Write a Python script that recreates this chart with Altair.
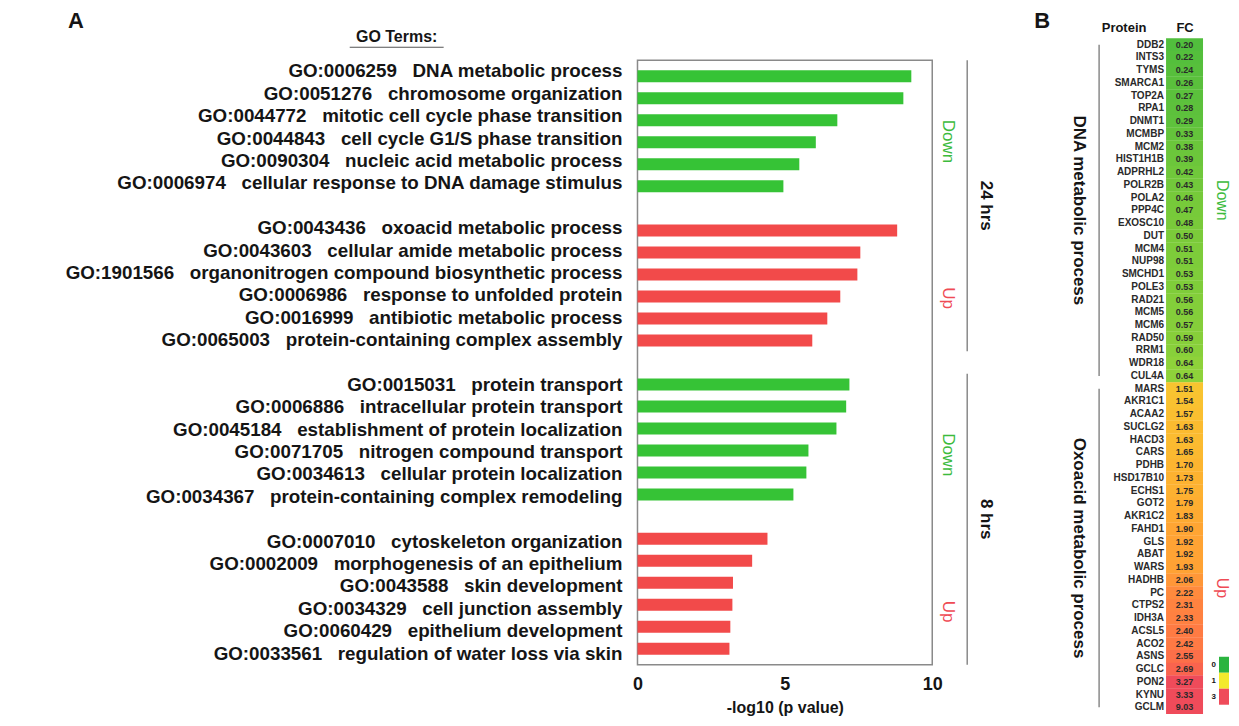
import altair as alt
import pandas as pd

# ---------------- data: panel A (GO enrichment) ----------------
go_ids = ["GO:0006259", "GO:0051276", "GO:0044772", "GO:0044843", "GO:0090304", "GO:0006974",
          "GO:0043436", "GO:0043603", "GO:1901566", "GO:0006986", "GO:0016999", "GO:0065003",
          "GO:0015031", "GO:0006886", "GO:0045184", "GO:0071705", "GO:0034613", "GO:0034367",
          "GO:0007010", "GO:0002009", "GO:0043588", "GO:0034329", "GO:0060429", "GO:0033561"]
go_terms = ["DNA metabolic process", "chromosome organization", "mitotic cell cycle phase transition",
            "cell cycle G1/S phase transition", "nucleic acid metabolic process",
            "cellular response to DNA damage stimulus",
            "oxoacid metabolic process", "cellular amide metabolic process",
            "organonitrogen compound biosynthetic process", "response to unfolded protein",
            "antibiotic metabolic process", "protein-containing complex assembly",
            "protein transport", "intracellular protein transport",
            "establishment of protein localization", "nitrogen compound transport",
            "cellular protein localization", "protein-containing complex remodeling",
            "cytoskeleton organization", "morphogenesis of an epithelium", "skin development",
            "cell junction assembly", "epithelium development", "regulation of water loss via skin"]
neg_log10_p = [9.29, 9.02, 6.78, 6.05, 5.49, 4.95,
               8.81, 7.56, 7.46, 6.88, 6.44, 5.93,
               7.19, 7.08, 6.75, 5.80, 5.73, 5.29,
               4.41, 3.89, 3.24, 3.22, 3.15, 3.12]
go_direction = ["Down", "Down", "Down", "Down", "Down", "Down",
                "Up", "Up", "Up", "Up", "Up", "Up",
                "Down", "Down", "Down", "Down", "Down", "Down",
                "Up", "Up", "Up", "Up", "Up", "Up"]
go_time = ["24 hrs"] * 12 + ["8 hrs"] * 12

# ---------------- data: panel B (protein fold change) ----------------
proteins = ["DDB2", "INTS3", "TYMS", "SMARCA1", "TOP2A", "RPA1", "DNMT1", "MCMBP", "MCM2",
            "HIST1H1B", "ADPRHL2", "POLR2B", "POLA2", "PPP4C", "EXOSC10", "DUT", "MCM4",
            "NUP98", "SMCHD1", "POLE3", "RAD21", "MCM5", "MCM6", "RAD50", "RRM1", "WDR18",
            "CUL4A",
            "MARS", "AKR1C1", "ACAA2", "SUCLG2", "HACD3", "CARS", "PDHB", "HSD17B10", "ECHS1",
            "GOT2", "AKR1C2", "FAHD1", "GLS", "ABAT", "WARS", "HADHB", "PC", "CTPS2", "IDH3A",
            "ACSL5", "ACO2", "ASNS", "GCLC", "PON2", "KYNU", "GCLM"]
fc_values = [0.20, 0.22, 0.24, 0.26, 0.27, 0.28, 0.29, 0.33, 0.38, 0.39, 0.42, 0.43, 0.46,
             0.47, 0.48, 0.50, 0.51, 0.51, 0.53, 0.53, 0.56, 0.56, 0.57, 0.59, 0.60, 0.64, 0.64,
             1.51, 1.54, 1.57, 1.63, 1.63, 1.65, 1.70, 1.73, 1.75, 1.79, 1.83, 1.90, 1.92,
             1.92, 1.93, 2.06, 2.22, 2.31, 2.33, 2.40, 2.42, 2.55, 2.69, 3.27, 3.33, 9.03]
fc_process = ["DNA metabolic process"] * 27 + ["Oxoacid metabolic process"] * 26
fc_direction = ["Down"] * 27 + ["Up"] * 26
legend_values = [0, 1, 3]
legend_labels = ["0", "1", "3"]

# ---------------- styles ----------------
FONT = "Liberation Sans, Arial, Helvetica, sans-serif"
GREEN = "#36c336"
RED = "#f24a4a"
GREEN_TXT = "#3dbb3d"
RED_TXT = "#ef4b55"
GRAY = "#8a8a8a"
INK = "#151515"

dfA = pd.DataFrame({"go": go_ids, "term": go_terms, "value": neg_log10_p,
                    "direction": go_direction, "time": go_time})
dfA["row"] = [i + i // 6 for i in range(len(dfA))]
dfA["label"] = dfA["go"] + "\u00a0\u00a0\u00a0" + dfA["term"]

dfB = pd.DataFrame({"protein": proteins, "fc": fc_values,
                    "process": fc_process, "direction": fc_direction})
dfB["idx"] = list(range(len(dfB)))

one = pd.DataFrame({"k": [0]})


def xA():
    return alt.Scale(domain=[0, 10], range=[630, 925], nice=False, zero=False)


def yA():
    return alt.Scale(domain=[-0.5, 26.5], range=[52, 657], nice=False, zero=False)


def yB():
    return alt.Scale(domain=[-0.5, 52.5], range=[30, 706], nice=False, zero=False)


def xB():
    return alt.Scale(domain=[0, 1], range=[1159, 1196], nice=False, zero=False)


def cscale():
    return alt.Scale(domain=[0, 0.65, 1, 1.5, 3],
                     range=["#2bb43f", "#8fd23a", "#f3ea2c", "#f8c530", "#ef4b5a"],
                     clamp=True)


# ---------------- panel A ----------------
bars = alt.Chart(dfA).mark_bar(orient="horizontal", size=12).encode(
    x=alt.X("value:Q", scale=xA(),
            axis=alt.Axis(values=[0, 5, 10], format="d", title="-log10 (p value)",
                          ticks=False, domain=False, grid=False, labelFlush=False,
                          labelFont=FONT, labelFontSize=18, labelFontWeight="bold",
                          labelColor=INK, labelPadding=11,
                          titleFont=FONT, titleFontSize=16, titleFontWeight="bold",
                          titleColor=INK, titlePadding=6)),
    y=alt.Y("row:Q", scale=yA(), axis=None),
    color=alt.condition(alt.datum.direction == "Down", alt.value(GREEN), alt.value(RED)),
)

frame = alt.Chart(one).transform_calculate(
    x0="0", x1="10", y0="-0.5", y1="26.5"
).mark_rect(fillOpacity=0, stroke=GRAY, strokeWidth=1.5).encode(
    x=alt.X("x0:Q", scale=xA(), axis=None), x2="x1:Q",
    y=alt.Y("y0:Q", scale=yA(), axis=None), y2="y1:Q",
)

labels = alt.Chart(dfA).mark_text(align="right", baseline="middle", font=FONT, fontSize=18.8,
                                  fontWeight="bold", color=INK).encode(
    x=alt.value(615),
    y=alt.Y("row:Q", scale=yA(), axis=None),
    text="label:N",
)

dir_labels = alt.Chart(dfA).transform_aggregate(
    m="mean(row)", groupby=["time", "direction"]
).mark_text(angle=90, align="center", baseline="middle", font=FONT, fontSize=17, dx=14).encode(
    x=alt.value(941),
    y=alt.Y("m:Q", scale=yA(), axis=None),
    text="direction:N",
    color=alt.condition(alt.datum.direction == "Down", alt.value(GREEN_TXT), alt.value(RED_TXT)),
)

time_lines = alt.Chart(dfA).transform_aggregate(
    lo="min(row)", hi="max(row)", groupby=["time"]
).transform_calculate(
    lo2="datum.lo - 0.5", hi2="datum.hi + 0.5"
).mark_rule(color=GRAY, strokeWidth=1.5).encode(
    x=alt.value(960),
    y=alt.Y("lo2:Q", scale=yA(), axis=None),
    y2="hi2:Q",
)

time_labels = alt.Chart(dfA).transform_aggregate(
    m="mean(row)", groupby=["time"]
).mark_text(angle=90, align="center", baseline="middle", font=FONT, fontSize=17,
            fontWeight="bold", color=INK).encode(
    x=alt.value(979),
    y=alt.Y("m:Q", scale=yA(), axis=None),
    text="time:N",
)


def tag(txt, x, y, size, weight="bold", color=INK, align="center"):
    return alt.Chart(pd.DataFrame({"t": [txt]})).mark_text(
        font=FONT, fontSize=size, fontWeight=weight, color=color, align=align,
        baseline="middle").encode(x=alt.value(x), y=alt.value(y), text="t:N")


letter_a = tag("A", 68, 13, 22)
go_head = tag("GO Terms:", 389, 29, 16)
underline = alt.Chart(one).mark_rule(color="#555", strokeWidth=1.2).encode(
    x=alt.value(342), x2=alt.value(436), y=alt.value(39))
letter_b = tag("B", 1035, 13, 22)

# ---------------- panel B ----------------
heat = alt.Chart(dfB).transform_calculate(
    c0="0", c1="1", lo="datum.idx - 0.5", hi="datum.idx + 0.52"
).mark_rect().encode(
    x=alt.X("c0:Q", scale=xB(), axis=None),
    x2="c1:Q",
    y=alt.Y("lo:Q", scale=yB(), axis=None),
    y2="hi:Q",
    color=alt.Color("fc:Q", scale=cscale(), legend=None),
)

fc_text = alt.Chart(dfB).transform_calculate(cm="0.5").mark_text(
    font=FONT, fontSize=9, fontWeight="bold", color="#2a2a2a", baseline="middle").encode(
    x=alt.X("cm:Q", scale=xB(), axis=None),
    y=alt.Y("idx:Q", scale=yB(), axis=None),
    text=alt.Text("fc:Q", format=".2f"),
)

names = alt.Chart(dfB).mark_text(
    font=FONT, fontSize=10, fontWeight="bold", color="#2a2a2a", align="right",
    baseline="middle").encode(
    x=alt.value(1157),
    y=alt.Y("idx:Q", scale=yB(), axis=None),
    text="protein:N",
)

proc_lines = alt.Chart(dfB).transform_aggregate(
    lo="min(idx)", hi="max(idx)", groupby=["process"]
).mark_rule(color=GRAY, strokeWidth=1.5).encode(
    x=alt.value(1092),
    y=alt.Y("lo:Q", scale=yB(), axis=None),
    y2="hi:Q",
)

proc_labels = alt.Chart(dfB).transform_aggregate(
    m="mean(idx)", groupby=["process"]
).mark_text(angle=90, align="center", baseline="middle", font=FONT, fontSize=17,
            fontWeight="bold", color=INK).encode(
    x=alt.value(1072),
    y=alt.Y("m:Q", scale=yB(), axis=None),
    text="process:N",
)

down_b = alt.Chart(dfB).transform_filter(alt.datum.direction == "Down").transform_aggregate(
    m="mean(idx)", groupby=["direction"]
).mark_text(angle=90, align="center", baseline="middle", font=FONT, fontSize=16,
            color=GREEN_TXT, dx=-10).encode(
    x=alt.value(1215),
    y=alt.Y("m:Q", scale=yB(), axis=None),
    text="direction:N",
)

up_b = alt.Chart(dfB).transform_filter(alt.datum.direction == "Up").transform_aggregate(
    m="mean(idx)", groupby=["direction"]
).mark_text(angle=90, align="center", baseline="middle", font=FONT, fontSize=16,
            color=RED_TXT, dx=40).encode(
    x=alt.value(1215),
    y=alt.Y("m:Q", scale=yB(), axis=None),
    text="direction:N",
)

head_protein = tag("Protein", 1117, 20, 13)
head_fc = tag("FC", 1178, 20, 13)

# ---------------- colour key ----------------
dfL = pd.DataFrame({"v": legend_values, "lab": legend_labels})


def yL():
    return alt.Scale(domain=legend_labels, range=[649, 697], paddingInner=0, paddingOuter=0)


key_rect = alt.Chart(dfL).mark_rect().encode(
    x=alt.value(1212), x2=alt.value(1222),
    y=alt.Y("lab:N", scale=yL(), axis=None),
    color=alt.Color("v:Q", scale=cscale(), legend=None),
)
key_text = alt.Chart(dfL).mark_text(font=FONT, fontSize=8, fontWeight="bold", color=INK,
                                    align="right", baseline="middle").encode(
    x=alt.value(1209),
    y=alt.Y("lab:N", scale=yL(), axis=None),
    text="lab:N",
)

chart = alt.layer(
    frame, bars, labels, dir_labels, time_lines, time_labels,
    letter_a, go_head, underline, letter_b,
    heat, fc_text, names, proc_lines, proc_labels, down_b, up_b, head_protein, head_fc,
    key_rect, key_text,
).resolve_scale(
    x="independent", y="independent", color="independent"
).properties(
    width=1222, height=657, padding=0, background="white"
).configure_view(strokeWidth=0)

chart.save("out.html", embed_options={"renderer": "svg", "actions": False})
